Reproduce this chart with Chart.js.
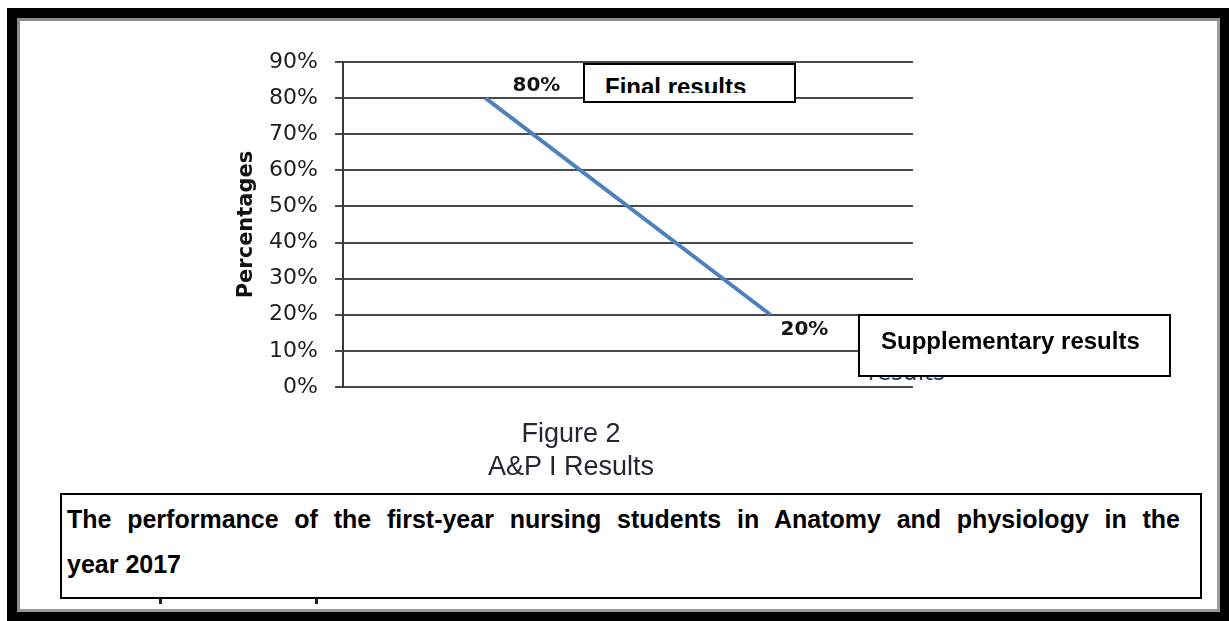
<!DOCTYPE html>
<html>
<head>
<meta charset="utf-8">
<script src="https://cdn.jsdelivr.net/npm/chart.js@4/dist/chart.umd.min.js"></script>
<style>
html,body{margin:0;padding:0;background:#fff;}
#wrap{position:relative;width:1229px;height:621px;overflow:hidden;background:#fff;}
#chart{position:absolute;left:0;top:0;}
.frame{position:absolute;left:7px;top:8px;width:1222px;height:613px;box-sizing:border-box;border-style:solid;border-color:#000;border-width:10px 9px 9px 10px;}
.frame-inner{position:absolute;left:17px;top:18px;width:1203px;height:594px;box-sizing:border-box;border:3px solid #8c8c8c;border-right-color:#9a9a9a;border-bottom-color:#9a9a9a;}
.box{position:absolute;box-sizing:border-box;border:2px solid #000;background:#fff;}
.btxt{position:absolute;font-family:"Liberation Sans",Arial,sans-serif;font-weight:bold;color:#000;white-space:nowrap;}
.clip{position:absolute;overflow:hidden;}
.fig{position:absolute;left:371px;width:400px;text-align:center;font-family:"Liberation Sans",Arial,sans-serif;font-size:27px;line-height:27px;color:#262633;white-space:nowrap;}
.hidden-label{position:absolute;font-family:"DejaVu Sans",sans-serif;font-size:23px;line-height:23px;color:#203864;white-space:nowrap;}
.cap{position:absolute;font-family:"Liberation Sans",Arial,sans-serif;font-weight:bold;font-size:25px;line-height:25px;color:#000;white-space:nowrap;}
.mark{position:absolute;width:3px;height:6px;background:#1c1c4a;}
</style>
</head>
<body>
<div id="wrap">
  <canvas id="chart" width="1229" height="621"></canvas>

  <div class="hidden-label" style="left:868px;top:361px;">results</div>

  <div class="box" style="left:583px;top:63px;width:213px;height:40px;"></div>
  <div class="clip" style="left:585px;top:65px;width:209px;height:28px;">
    <div class="btxt" style="left:20px;top:10px;font-size:24px;line-height:24px;">Final results</div>
  </div>

  <div class="box" style="left:858px;top:314px;width:313px;height:63px;">
    <div class="btxt" style="left:21px;top:13px;font-size:24px;line-height:24px;">Supplementary results</div>
  </div>

  <div class="fig" style="top:420px;">Figure 2</div>
  <div class="fig" style="top:453px;">A&amp;P I Results</div>

  <div class="mark" style="left:159px;top:598px;"></div>
  <div class="mark" style="left:315px;top:598px;"></div>

  <div class="box" style="left:60px;top:493px;width:1142px;height:106px;"></div>
  <div class="cap" style="left:67px;top:507px;width:1113px;text-align:justify;text-align-last:justify;">The performance of the first-year nursing students in Anatomy and physiology in the</div>
  <div class="cap" style="left:67px;top:552px;">year 2017</div>

  <div class="frame"></div>
  <div class="frame-inner"></div>
</div>
<script>
// ---- data ----
const categories = ['Final results', 'Supplementary results'];
const resultShares = [0.80, 0.20];
const yTickValues = [0, 0.1, 0.2, 0.3, 0.4, 0.5, 0.6, 0.7, 0.8, 0.9];
const yTickLabels = ['0%', '10%', '20%', '30%', '40%', '50%', '60%', '70%', '80%', '90%'];
const pointLabels = ['80%', '20%'];
const yAxisTitle = 'Percentages';

// label placement (style only)
const labelOffsets = [{dx: 27, dy: -12}, {dx: 10, dy: 15}];

const pointLabelPlugin = {
  id: 'pointLabelPlugin',
  afterDatasetsDraw(chart) {
    const ctx = chart.ctx;
    const meta = chart.getDatasetMeta(0);
    ctx.save();
    ctx.font = 'bold 20px "DejaVu Sans", sans-serif';
    ctx.fillStyle = '#151515';
    ctx.textAlign = 'left';
    ctx.textBaseline = 'middle';
    meta.data.forEach((pt, i) => {
      const o = labelOffsets[i];
      ctx.fillText(pointLabels[i], pt.x + o.dx, pt.y + o.dy);
    });
    ctx.restore();
  }
};

new Chart(document.getElementById('chart'), {
  type: 'line',
  data: {
    labels: categories,
    datasets: [{
      data: resultShares,
      borderColor: '#4F81BD',
      borderWidth: 4,
      pointRadius: 0,
      pointHoverRadius: 0,
      tension: 0,
      fill: false,
      borderCapStyle: 'butt'
    }]
  },
  options: {
    responsive: false,
    animation: false,
    events: [],
    layout: {padding: {left: 234, top: 62, right: 316, bottom: 234}},
    plugins: {legend: {display: false}, tooltip: {enabled: false}, title: {display: false}},
    scales: {
      x: {type: 'category', offset: true, display: false},
      y: {
        min: 0,
        max: 0.9,
        afterBuildTicks(scale) { scale.ticks = yTickValues.map(v => ({value: v})); },
        afterFit(scale) { scale.width = 343 - 234; },
        ticks: {
          padding: 17,
          color: '#1e1e1e',
          font: {family: '"DejaVu Sans", sans-serif', size: 22},
          callback: (v) => { const i = yTickValues.findIndex(t => Math.abs(t - v) < 1e-9); return i >= 0 ? yTickLabels[i] : ''; }
        },
        grid: {color: '#4a4a4a', lineWidth: 2, tickLength: 8, drawTicks: true},
        border: {display: true, color: '#3a3a3a', width: 2},
        title: {
          display: true,
          text: yAxisTitle,
          color: '#111',
          font: {family: '"DejaVu Sans", sans-serif', size: 21, weight: 'bold'},
          padding: {top: 0, bottom: 0}
        }
      }
    }
  },
  plugins: [pointLabelPlugin]
});
</script>
</body>
</html>
